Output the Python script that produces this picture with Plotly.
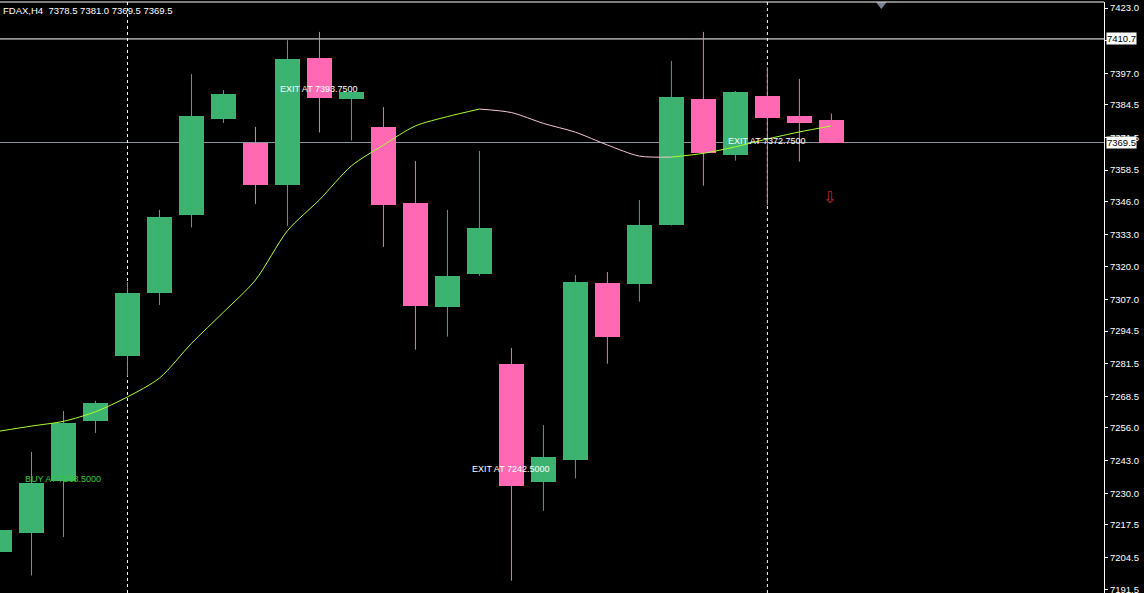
import plotly.graph_objects as go

# ---------------- data ----------------
title_text = "FDAX,H4\u00a0\u00a07378.5 7381.0 7369.5 7369.5"

bar_index = list(range(27))
opens  = [7206.8, 7214.3, 7234.8, 7258.6, 7284.4, 7309.8, 7340.5, 7379.0, 7369.3, 7352.4,
          7403.3, 7387.0, 7375.7, 7345.4, 7304.2, 7317.3, 7281.4, 7234.6, 7243.3, 7313.6,
          7313.3, 7336.8, 7386.8, 7364.6, 7388.0, 7380.0, 7378.5]
highs  = [7217.0, 7246.4, 7262.7, 7266.7, 7314.0, 7342.7, 7396.7, 7390.3, 7375.7, 7410.2,
          7413.5, 7390.0, 7383.6, 7362.1, 7342.7, 7366.1, 7287.8, 7257.1, 7316.8, 7318.0,
          7346.6, 7401.9, 7413.5, 7390.0, 7399.4, 7394.8, 7381.0]
lows   = [7205.0, 7197.3, 7212.6, 7254.0, 7276.5, 7304.9, 7335.7, 7377.3, 7345.1, 7336.4,
          7373.5, 7370.3, 7328.0, 7287.1, 7292.3, 7316.5, 7195.2, 7223.0, 7235.9, 7281.5,
          7306.2, 7336.5, 7352.3, 7362.3, 7344.6, 7361.9, 7369.5]
closes = [7215.5, 7234.1, 7257.9, 7265.9, 7309.6, 7339.9, 7380.0, 7388.9, 7352.7, 7402.7,
          7387.4, 7389.6, 7344.8, 7304.6, 7316.4, 7335.6, 7233.0, 7244.4, 7314.0, 7292.3,
          7336.7, 7387.6, 7365.4, 7389.6, 7379.4, 7377.4, 7369.5]

ma_values = [7254.7, 7256.7, 7258.6, 7262.4, 7268.3, 7275.8, 7289.6, 7302.0, 7314.8, 7334.4,
             7346.7, 7360.2, 7368.5, 7376.1, 7379.8, 7382.8, 7381.4, 7377.1, 7373.6, 7368.5,
             7364.1, 7363.7, 7365.2, 7367.8, 7370.9, 7373.7, 7376.1]

tick_values = [7423.0, 7410.0, 7397.0, 7384.5, 7371.5, 7358.5, 7346.0, 7333.0, 7320.0,
               7307.0, 7294.5, 7281.5, 7268.5, 7256.0, 7243.0, 7230.0, 7217.5, 7204.5, 7191.5]
hidden_ticks = [7410.0]   # fully covered by the 7410.7 level box in the original
tick_labels = ["" if v in hidden_ticks else f"{v:.1f}" for v in tick_values]

hline_price = 7410.7
bid_price = 7369.5
separator_bars = [4, 24]

trade_bars   = [1, 9, 15, 23]
trade_prices = [7238.5, 7393.75, 7242.5, 7372.75]
trade_kinds  = ["BUY", "EXIT", "EXIT", "EXIT"]

signal_bar = 26
signal_price = 7347.8
chart_shift_pos = 27.56

# ---------------- styling ----------------
BG = "#000000"
UP = "#3cb371"
DOWN = "#ff69b4"
MA_UP = "#adff2f"
MA_DOWN = "#f5c8d2"
FONT = "Liberation Sans"

x_range = [0.0156, 34.52]
y_range = [7190.3, 7425.39]

fig = go.Figure()

# candle wicks
for color, cond in ((UP, True), (DOWN, False)):
    xs, ys = [], []
    for i, o, h, l, c in zip(bar_index, opens, highs, lows, closes):
        if (c >= o) == cond:
            xs += [i, i, None]
            ys += [l, h, None]
    fig.add_trace(go.Scatter(x=xs, y=ys, mode="lines",
                             line=dict(color=color, width=1),
                             hoverinfo="skip", showlegend=False))

# candle bodies
fig.add_trace(go.Bar(
    x=bar_index,
    y=[abs(c - o) for o, c in zip(opens, closes)],
    base=[min(o, c) for o, c in zip(opens, closes)],
    width=0.78,
    marker=dict(color=[UP if c >= o else DOWN for o, c in zip(opens, closes)],
                line=dict(width=0)),
    showlegend=False, hoverinfo="skip"))

# moving average, coloured by slope (contiguous runs, smoothed)
runs = []
start = 0
for i in range(1, len(ma_values) - 1):
    up_prev = ma_values[i] >= ma_values[i - 1]
    up_next = ma_values[i + 1] >= ma_values[i]
    if up_prev != up_next:
        runs.append((start, i, up_prev))
        start = i
runs.append((start, len(ma_values) - 1, ma_values[-1] >= ma_values[-2]))
for a, b, rising in runs:
    fig.add_trace(go.Scatter(x=bar_index[a:b + 1], y=ma_values[a:b + 1], mode="lines",
                             line=dict(color=MA_UP if rising else MA_DOWN, width=1,
                                       shape="spline", smoothing=0.8),
                             hoverinfo="skip", showlegend=False))

# chart shift marker
fig.add_trace(go.Scatter(x=[chart_shift_pos], y=[y_range[1] - 1.0], mode="markers",
                         marker=dict(symbol="triangle-down", size=9, color="#7a8593"),
                         cliponaxis=False, hoverinfo="skip", showlegend=False))

shapes = [
    dict(type="line", xref="paper", yref="paper", x0=0, x1=1, y0=1, y1=1,
         line=dict(color="#ffffff", width=1)),
    dict(type="line", xref="paper", yref="y", x0=0, x1=1, y0=hline_price, y1=hline_price,
         line=dict(color="#ffffff", width=1), layer="below"),
    dict(type="line", xref="paper", yref="y", x0=0, x1=1, y0=bid_price, y1=bid_price,
         line=dict(color="#8a93a0", width=1), layer="below"),
]
for b in separator_bars:
    shapes.append(dict(type="line", xref="x", yref="paper", x0=b, x1=b, y0=0, y1=1,
                       line=dict(color="#ffffff", width=1, dash="3px,3px"), layer="below"))

annotations = [
    dict(xref="paper", yref="paper", x=0, y=1, xanchor="left", yanchor="top",
         xshift=2, yshift=-2, text=title_text, showarrow=False, borderpad=0,
         font=dict(family=FONT, size=9.5, color="#ffffff")),
    dict(xref="paper", yref="y", x=1, y=hline_price, xanchor="left", yanchor="middle",
         xshift=2, text=f"{hline_price:.1f}", showarrow=False, bgcolor="#ffffff",
         borderpad=0, font=dict(family=FONT, size=9.5, color="#000000")),
    dict(xref="paper", yref="y", x=1, y=bid_price, xanchor="left", yanchor="middle",
         xshift=2, text=f"{bid_price:.1f}", showarrow=False, bgcolor="#ffffff",
         borderpad=0, font=dict(family=FONT, size=9.5, color="#000000")),
    dict(xref="x", yref="y", x=signal_bar, y=signal_price, xanchor="center", yanchor="middle",
         xshift=-2, text="\u21e9", showarrow=False,
         font=dict(family="DejaVu Sans", size=16, color="#c0282d")),
]
for b, p, k in zip(trade_bars, trade_prices, trade_kinds):
    annotations.append(dict(
        xref="x", yref="y", x=b, y=p, xanchor="left", yanchor="middle",
        xshift=-8, yshift=-7, text=f"{k} AT {p:.4f}", showarrow=False, borderpad=0,
        font=dict(family=FONT, size=9, color="#32cd32" if k == "BUY" else "#ffffff")))

fig.update_layout(
    width=1144, height=593,
    margin=dict(l=0, r=40, t=2, b=0, autoexpand=False),
    paper_bgcolor=BG, plot_bgcolor=BG,
    barmode="overlay", bargap=0,
    showlegend=False,
    shapes=shapes, annotations=annotations,
    xaxis=dict(range=x_range, showgrid=False, zeroline=False, showticklabels=False,
               ticks="", showline=False, fixedrange=True, automargin=False),
    yaxis=dict(range=y_range, side="right", showgrid=False, zeroline=False,
               tickvals=tick_values, ticktext=tick_labels,
               ticks="outside", ticklen=3, tickcolor="#ffffff",
               showline=True, linecolor="#ffffff", linewidth=1,
               ticklabeloverflow="allow", automargin=False,
               tickfont=dict(family=FONT, size=9.5, color="#ffffff"),
               fixedrange=True),
)

fig.write_html("out.html", config={"displayModeBar": False},
               post_script="document.body.style.margin='0';document.body.style.background='#000';")
